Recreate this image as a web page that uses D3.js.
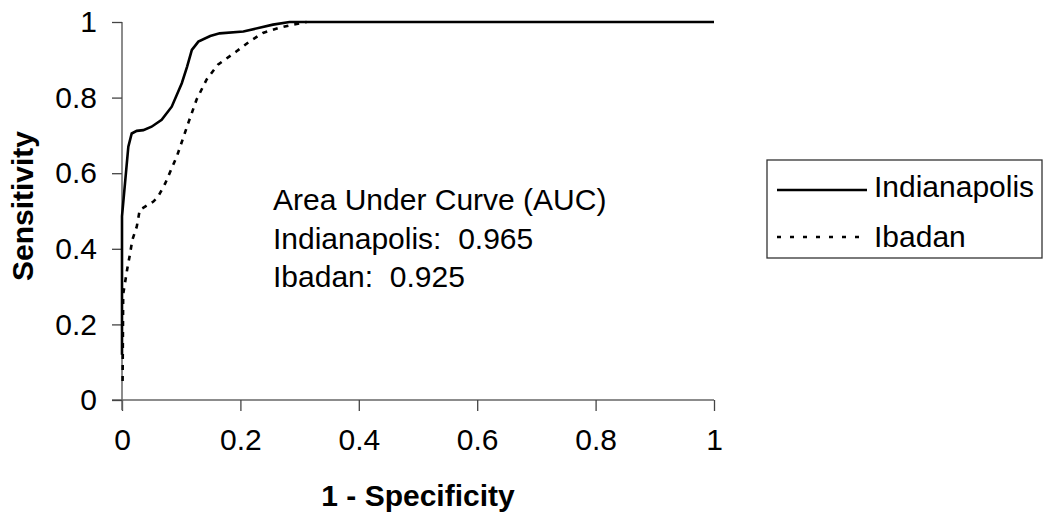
<!DOCTYPE html>
<html>
<head>
<meta charset="utf-8">
<script src="https://cdn.jsdelivr.net/npm/d3@7"></script>
<style>
  body { margin: 0; background: #fff; }
  svg { font-family: "Liberation Sans", Arial, sans-serif; }
</style>
</head>
<body>
<div id="chart"></div>
<script>
// ROC curve points: [1 - specificity, sensitivity]
const indianapolis = [
  [0, 0.12], [0, 0.486], [0.0107, 0.67], [0.0164, 0.705], [0.025, 0.712],
  [0.036, 0.714], [0.05, 0.723], [0.067, 0.741], [0.084, 0.776], [0.101, 0.838],
  [0.11, 0.882], [0.118, 0.926], [0.129, 0.948], [0.149, 0.963], [0.165, 0.97],
  [0.205, 0.975], [0.255, 0.993], [0.283, 1], [1, 1]
];
const ibadan = [
  [0.001, 0.05], [0.002, 0.28], [0.005, 0.309], [0.009, 0.348], [0.0135, 0.386],
  [0.0174, 0.423], [0.025, 0.459], [0.03, 0.503], [0.053, 0.525], [0.061, 0.538],
  [0.073, 0.573], [0.084, 0.613], [0.093, 0.646], [0.112, 0.733], [0.126, 0.795],
  [0.143, 0.848], [0.162, 0.887], [0.193, 0.922], [0.216, 0.949], [0.238, 0.971],
  [0.264, 0.984], [0.289, 0.993], [0.312, 1]
];
const xTicks = [0, 0.2, 0.4, 0.6, 0.8, 1];
const yTicks = [0, 0.2, 0.4, 0.6, 0.8, 1];
const seriesNames = ["Indianapolis", "Ibadan"];
const aucLines = ["Area Under Curve (AUC)", "Indianapolis:\u00a0\u00a00.965", "Ibadan:\u00a0\u00a00.925"];

const width = 1050, height = 527;
const margin = {left: 122, right: 336, top: 22, bottom: 127};
const fontSize = 30;

const svg = d3.select("#chart").append("svg")
    .attr("width", width)
    .attr("height", height);

const x = d3.scaleLinear().domain([0, 1]).range([margin.left, width - margin.right]);
const y = d3.scaleLinear().domain([0, 1]).range([height - margin.bottom, margin.top]);

// axes
const xAxis = svg.append("g")
    .attr("transform", `translate(0,${y(0)})`)
    .call(d3.axisBottom(x).tickValues(xTicks).tickFormat(d3.format("")).tickSize(11).tickPadding(18));
const yAxis = svg.append("g")
    .attr("transform", `translate(${x(0)},0)`)
    .call(d3.axisLeft(y).tickValues(yTicks).tickFormat(d3.format("")).tickSize(10).tickPadding(15));

[xAxis, yAxis].forEach(a => {
  a.select(".domain").attr("stroke", "#666").attr("stroke-width", 1.5);
  a.selectAll(".tick line").attr("stroke", "#444").attr("stroke-width", 1.3);
  a.selectAll(".tick text").attr("font-size", fontSize).attr("fill", "#000")
    .attr("font-family", "Liberation Sans, Arial, sans-serif");
});
// x axis runs a little past the y axis on the left, like the original
xAxis.select(".domain").attr("d", `M${x(0) - 10},0H${x(1)}`);
yAxis.select(".domain").attr("d", `M0,${y(1)}V${y(0) + 10}`);

const line = d3.line().x(d => x(d[0])).y(d => y(d[1]));

svg.append("path")
    .datum(ibadan)
    .attr("fill", "none")
    .attr("stroke", "#000")
    .attr("stroke-width", 2.6)
    .attr("stroke-dasharray", "5,6")
    .attr("d", line);

svg.append("path")
    .datum(indianapolis)
    .attr("fill", "none")
    .attr("stroke", "#000")
    .attr("stroke-width", 2.6)
    .attr("d", line);

// AUC note
svg.append("g").selectAll("text")
  .data(aucLines)
  .join("text")
    .attr("x", 273)
    .attr("y", (d, i) => 210 + i * 38.5)
    .attr("font-size", fontSize)
    .text(d => d);

// axis titles
svg.append("text")
    .attr("x", (x(0) + x(1)) / 2)
    .attr("y", 506)
    .attr("text-anchor", "middle")
    .attr("font-size", fontSize)
    .attr("font-weight", "bold")
    .text("1 - Specificity");

svg.append("text")
    .attr("transform", `translate(33,206) rotate(-90)`)
    .attr("text-anchor", "middle")
    .attr("font-size", fontSize)
    .attr("font-weight", "bold")
    .text("Sensitivity");

// legend
const legend = svg.append("g");
legend.append("rect")
    .attr("x", 767).attr("y", 160)
    .attr("width", 275).attr("height", 98)
    .attr("fill", "none").attr("stroke", "#333").attr("stroke-width", 1.3);

const legItems = legend.selectAll(".item")
  .data(seriesNames)
  .join("g")
    .attr("class", "item")
    .attr("transform", (d, i) => `translate(777,${190 + i * 47})`);
legItems.append("line")
    .attr("x1", 0).attr("x2", 90)
    .attr("stroke", "#000").attr("stroke-width", 2.4)
    .attr("stroke-dasharray", (d, i) => i ? "4,9" : null);
legItems.append("text")
    .attr("x", 97).attr("y", (d, i) => i ? 10 : 7)
    .attr("font-size", fontSize)
    .text(d => d);
</script>
</body>
</html>
